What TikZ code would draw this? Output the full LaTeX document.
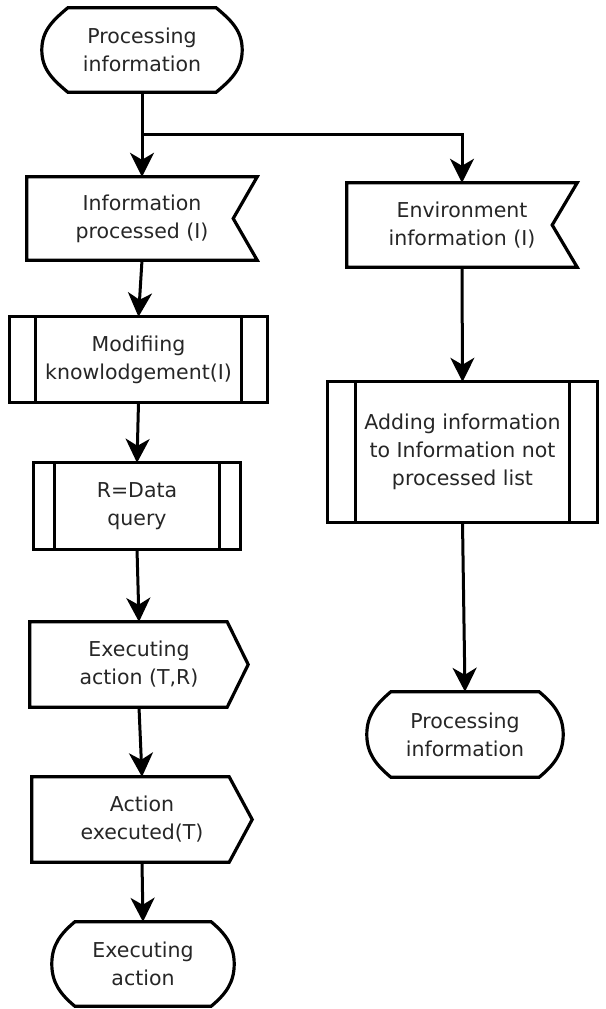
\documentclass[tikz,border=0pt]{standalone}
\usepackage{fontspec}
\setmainfont{DejaVu Sans}
\usetikzlibrary{calc,arrows.meta}

\tikzset{
  x=1pt, y=1pt,
  outline/.style={line width=3.2pt, line join=miter, draw=black},
  conn/.style={line width=3pt, draw=black},
  arr/.style={conn, -{Stealth[length=24pt, width=24pt, inset=7pt]}},
  label/.style={inner sep=0pt, align=center, text=black!85,
    font=\fontsize{20.5}{28}\selectfont},
}

% terminator: flat top and bottom, bulging sides
\newcommand\termshape[2]{%
  \draw[outline] ($(#1.north west)+(#2,0)$) -- ($(#1.north east)+(-#2,0)$)
    to[out=-40,in=90] (#1.east) to[out=-90,in=40] ($(#1.south east)+(-#2,0)$)
    -- ($(#1.south west)+(#2,0)$)
    to[out=140,in=-90] (#1.west) to[out=90,in=-140] cycle;}
% data box with a notch cut into the right side
\newcommand\notchshape[2]{%
  \draw[outline] (#1.north west) -- (#1.north east) -- ($(#1.east)+(-#2,0)$)
    -- (#1.south east) -- (#1.south west) -- cycle;}
% predefined process: rectangle with two inner side bars
\newcommand\procshape[2]{%
  \draw[outline] (#1.north west) rectangle (#1.south east);
  \draw[outline] ($(#1.north west)+(#2,0)$) -- ($(#1.south west)+(#2,0)$);
  \draw[outline] ($(#1.north east)+(-#2,0)$) -- ($(#1.south east)+(-#2,0)$);}
% pointed box, tip on the right
\newcommand\pointshape[2]{%
  \draw[outline] (#1.north west) -- ($(#1.north east)+(-#2,0)$) -- (#1.east)
    -- ($(#1.south east)+(-#2,0)$) -- (#1.south west) -- cycle;}

\begin{document}
\begin{tikzpicture}
\useasboundingbox (0,0) rectangle (605,-1009);

\node[label, minimum width=200, minimum height=84] (t1) at (142,-50) {Processing\\information};
\node[label, minimum width=230, minimum height=83] (ip) at (142,-218.5) {Information\\processed (I)};
\node[label, minimum width=230, minimum height=84] (env) at (462,-225) {Environment\\information (I)};
\node[label, minimum width=257, minimum height=85] (mod) at (138.5,-359.5) {Modifiing\\knowlodgement(I)};
\node[label, minimum width=206, minimum height=86] (rdq) at (137,-506) {R=Data\\query};
\node[label, minimum width=269, minimum height=140] (add) at (462.5,-452) {Adding information\\to Information not\\processed list};
\node[label, minimum width=218, minimum height=85] (ex) at (139,-664.5) {Executing\\action (T,R)};
\node[label, minimum width=220, minimum height=85] (ae) at (142,-819.5) {Action\\executed(T)};
\node[label, minimum width=196, minimum height=85] (t2) at (465,-734.5) {Processing\\information};
\node[label, minimum width=182, minimum height=84] (t3) at (143,-964) {Executing\\action};

\termshape{t1}{26}
\notchshape{ip}{24}
\notchshape{env}{25}
\procshape{mod}{26}
\procshape{rdq}{21}
\procshape{add}{28}
\pointshape{ex}{21}
\pointshape{ae}{23}
\termshape{t2}{24}
\termshape{t3}{23}

\coordinate (fork) at (142,-134);
\draw[conn] (t1.south) -- (fork);
\draw[arr] (fork) -- (ip.north);
\draw[arr] (fork) -| (env.north);
\draw[arr] (ip.south) -- (mod.north);
\draw[arr] (mod.south) -- (rdq.north);
\draw[arr] (rdq.south) -- (ex.north);
\draw[arr] (ex.south) -- (ae.north);
\draw[arr] (ae.south) -- (t3.north);
\draw[arr] (env.south) -- (add.north);
\draw[arr] (add.south) -- (t2.north);
\end{tikzpicture}
\end{document}
